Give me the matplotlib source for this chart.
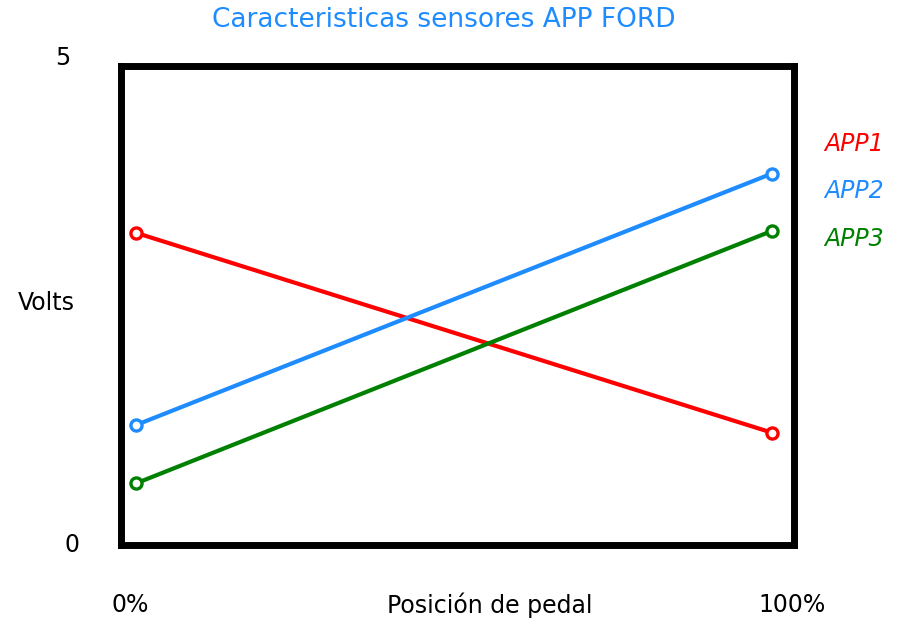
"""Pedal position sensor (APP) voltage characteristics, Ford layout."""

import matplotlib
matplotlib.use("Agg")
import matplotlib.pyplot as plt

# pedal position (%) at the two ends of travel
PEDAL = [0, 100]

# output voltage of each sensor at 0% and 100% pedal
APP1 = [3.26, 1.17]
APP2 = [1.25, 3.88]
APP3 = [0.64, 3.28]

SERIES = [
    ("APP1", APP1, "#ff0000"),
    ("APP2", APP2, "#1e8cff"),
    ("APP3", APP3, "#008000"),
]

TITLE = "Caracteristicas sensores APP FORD"
TITLE_COLOR = "#1e8cff"


def main():
    fig = plt.figure(figsize=(9.04, 6.18), dpi=100)
    ax = fig.add_axes([0.1333, 0.1189, 0.7445, 0.7735])

    for name, volts, color in SERIES:
        ax.plot(PEDAL, volts, color=color, linewidth=3,
                marker="o", markersize=8, markeredgewidth=2.4,
                markerfacecolor="white", markeredgecolor=color)

    ax.set_xlim(-2.44, 103.4)
    ax.set_ylim(0, 5)

    for spine in ax.spines.values():
        spine.set_linewidth(5)
        spine.set_color("black")

    ax.set_xticks([])
    ax.set_yticks([])

    # axis labels drawn as free text around the box
    ax.text(-0.072, 0.0, "0", transform=ax.transAxes, ha="center",
            va="center", fontsize=17)
    ax.text(-0.086, 1.018, "5", transform=ax.transAxes, ha="center",
            va="center", fontsize=17)
    ax.text(-0.110, 0.506, "Volts", transform=ax.transAxes, ha="center",
            va="center", fontsize=17)

    ax.text(0.014, -0.126, "0%", transform=ax.transAxes, ha="center",
            va="center", fontsize=17)
    ax.text(0.549, -0.126, "Posición de pedal", transform=ax.transAxes,
            ha="center", va="center", fontsize=17)
    ax.text(0.998, -0.126, "100%", transform=ax.transAxes, ha="center",
            va="center", fontsize=17)

    # series names to the right of the box
    label_y = [0.837, 0.740, 0.640]
    for (name, volts, color), y in zip(SERIES, label_y):
        ax.text(1.045, y, name, transform=ax.transAxes, ha="left",
                va="center", fontsize=17, color=color, style="italic")

    fig.text(0.491, 0.968, TITLE, ha="center", va="center",
             fontsize=19, color=TITLE_COLOR)

    fig.savefig("out.png", dpi=100, facecolor="white")


if __name__ == "__main__":
    main()
